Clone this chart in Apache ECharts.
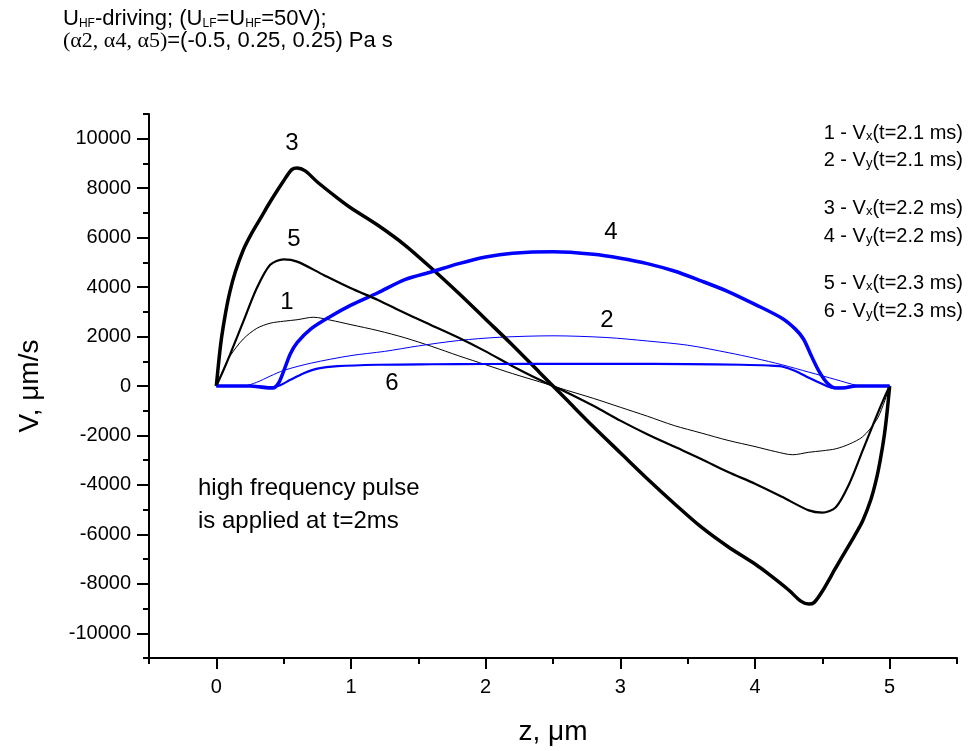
<!DOCTYPE html>
<html>
<head>
<meta charset="utf-8">
<title>V(z)</title>
<script src="https://cdn.jsdelivr.net/npm/echarts@6/dist/echarts.min.js"></script>
<style>
  html, body { margin: 0; padding: 0; background: #fff; }
  #chart { width: 970px; height: 751px; }
</style>
</head>
<body>
<div id="chart"></div>
<script>
// tick values
var xMajorTicks = [0, 1, 2, 3, 4, 5];
var xMinorTicks = [-0.5, 0.5, 1.5, 2.5, 3.5, 4.5, 5.5];
var yMajorTicks = [-10000, -8000, -6000, -4000, -2000, 0, 2000, 4000, 6000, 8000, 10000];
var yMinorTicks = [-11000, -9000, -7000, -5000, -3000, -1000, 1000, 3000, 5000, 7000, 9000, 11000];

// curve 1 - Vx(t=2.1 ms), [z, V]
var vx21 = [[0,0],[0.05,650],[0.1,1200],[0.2,1900],[0.3,2330],[0.4,2540],[0.5,2620],[0.6,2680],[0.72,2780],
  [0.85,2660],[1.0,2480],[1.2,2240],[1.4,1950],[1.6,1600],[1.8,1220],[2.0,860],[2.2,500],[2.4,170],[2.5,0],
  [2.6,-170],[2.8,-500],[3.0,-860],[3.2,-1220],[3.4,-1600],[3.6,-1900],[3.8,-2200],[4.0,-2450],[4.15,-2650],
  [4.28,-2780],[4.4,-2680],[4.5,-2620],[4.6,-2540],[4.7,-2350],[4.8,-2050],[4.9,-1400],[4.95,-800],[5.0,0]];
// curve 2 - Vy(t=2.1 ms)
var vy21 = [[0,0],[0.2,0],[0.3,150],[0.4,400],[0.5,630],[0.7,920],[1.0,1230],[1.25,1400],[1.5,1620],[1.8,1840],
  [2.1,1970],[2.5,2030],[2.9,1960],[3.2,1820],[3.5,1650],[3.8,1350],[4.0,1120],[4.2,860],[4.4,560],[4.6,260],
  [4.75,30],[4.8,0],[5.0,0]];
// curve 3 - Vx(t=2.2 ms)
var vx22 = [[0,0],[0.02,1100],[0.04,2000],[0.07,3000],[0.1,3800],[0.14,4600],[0.2,5500],[0.26,6150],[0.33,6800],
  [0.4,7450],[0.5,8300],[0.56,8750],[0.6,8820],[0.66,8700],[0.75,8250],[0.9,7600],[1.0,7200],[1.2,6500],
  [1.4,5700],[1.6,4750],[1.8,3750],[2.0,2700],[2.2,1650],[2.4,550],[2.5,0],[2.6,-550],[2.8,-1650],
  [3.0,-2700],[3.2,-3750],[3.4,-4750],[3.6,-5700],[3.8,-6500],[4.0,-7200],[4.1,-7600],[4.25,-8250],
  [4.34,-8700],[4.4,-8820],[4.44,-8750],[4.5,-8300],[4.6,-7350],[4.67,-6700],[4.74,-6050],[4.8,-5450],
  [4.86,-4600],[4.9,-3800],[4.93,-3000],[4.96,-2000],[4.98,-1100],[5.0,0]];
// curve 4 - Vy(t=2.2 ms)
var vy22 = [[0,0],[0.25,0],[0.35,-60],[0.42,-80],[0.46,100],[0.5,600],[0.55,1300],[0.6,1750],[0.7,2300],
  [0.85,2820],[1.0,3270],[1.2,3770],[1.4,4300],[1.6,4620],[1.8,4950],[2.0,5220],[2.2,5370],[2.5,5430],
  [2.8,5330],[3.0,5170],[3.2,4950],[3.4,4650],[3.6,4250],[3.8,3820],[4.0,3300],[4.2,2740],[4.3,2300],
  [4.36,1900],[4.42,1200],[4.48,550],[4.54,100],[4.6,-80],[4.65,-80],[4.75,0],[5.0,0]];
// curve 5 - Vx(t=2.3 ms)
var vx23 = [[0,0],[0.05,600],[0.1,1250],[0.2,2600],[0.3,3950],[0.4,4900],[0.5,5120],[0.6,5030],[0.8,4480],
  [1.0,3950],[1.2,3480],[1.4,2950],[1.6,2450],[1.8,1950],[2.0,1400],[2.2,800],[2.4,250],[2.5,0],
  [2.6,-250],[2.8,-800],[3.0,-1400],[3.2,-1950],[3.4,-2450],[3.6,-2950],[3.8,-3480],[4.0,-3950],
  [4.2,-4480],[4.4,-5030],[4.5,-5120],[4.6,-4900],[4.7,-3950],[4.8,-2600],[4.9,-1250],[4.95,-600],[5.0,0]];
// curve 6 - Vy(t=2.3 ms)
var vy23 = [[0,0],[0.3,0],[0.4,-50],[0.47,20],[0.55,250],[0.65,520],[0.75,700],[0.9,800],[1.2,860],[1.6,880],
  [2.0,890],[2.5,895],[3.0,895],[3.5,885],[3.9,860],[4.1,830],[4.2,790],[4.3,610],[4.4,330],[4.5,80],
  [4.58,-80],[4.66,-60],[4.75,0],[5.0,0]];

var legendLines = [
  ['1 - V', 'x', '(t=2.1 ms)'],
  ['2 - V', 'y', '(t=2.1 ms)'],
  ['3 - V', 'x', '(t=2.2 ms)'],
  ['4 - V', 'y', '(t=2.2 ms)'],
  ['5 - V', 'x', '(t=2.3 ms)'],
  ['6 - V', 'y', '(t=2.3 ms)']
];

var FONT = 'Liberation Sans, Arial, sans-serif';
var SERIF = 'Liberation Serif, Times New Roman, serif';
var myChart = echarts.init(document.getElementById('chart'));

function curve(data, color, width) {
    return {
        type: 'line',
        data: data,
        showSymbol: false,
        symbol: 'none',
        smooth: 0.3,
        animation: false,
        lineStyle: { color: color, width: width },
        z: 3
    };
}

var graphics = [];
// header
graphics.push({
    type: 'text', left: 63, top: 8,
    style: {
        text: '{a|U}{b|HF}{a|-driving; (U}{b|LF}{a|=U}{b|HF}{a|=50V);}',
        rich: {
            a: { fontFamily: FONT, fontSize: 22, lineHeight: 26, verticalAlign: 'bottom', fill: '#000' },
            b: { fontFamily: FONT, fontSize: 12, lineHeight: 14, verticalAlign: 'bottom', fill: '#000' }
        }
    }
});
graphics.push({
    type: 'text', left: 63, top: 30,
    style: {
        text: '{c|(α2, α4, α5)}{a|=(-0.5, 0.25, 0.25) Pa s}',
        rich: {
            a: { fontFamily: FONT, fontSize: 22, lineHeight: 26, fill: '#000' },
            c: { fontFamily: SERIF, fontSize: 22, lineHeight: 26, fill: '#000' }
        }
    }
});
// legend block on the right
var legendY = [130, 157, 205, 233, 280, 308];
legendLines.forEach(function (l, i) {
    graphics.push({
        type: 'text', x: 963, y: legendY[i],
        style: {
            text: '{a|' + l[0] + '}{b|' + l[1] + '}{a|' + l[2] + '}',
            align: 'right', verticalAlign: 'middle',
            rich: {
                a: { fontFamily: FONT, fontSize: 20, lineHeight: 26, verticalAlign: 'bottom', fill: '#000' },
                b: { fontFamily: FONT, fontSize: 13, lineHeight: 4, verticalAlign: 'bottom', fill: '#000' }
            }
        }
    });
});
// curve numbers
var numLabels = [['3', 292, 143], ['5', 294, 239], ['1', 287, 302], ['4', 611, 232], ['2', 607, 320], ['6', 392, 383]];
numLabels.forEach(function (n) {
    graphics.push({
        type: 'text', x: n[1], y: n[2],
        style: { text: n[0], fontFamily: FONT, fontSize: 24, fill: '#000', align: 'center', verticalAlign: 'middle' }
    });
});
// note
graphics.push({
    type: 'text', x: 198, y: 488,
    style: { text: 'high frequency pulse', fontFamily: FONT, fontSize: 24, fill: '#000', verticalAlign: 'middle' }
});
graphics.push({
    type: 'text', x: 198, y: 521,
    style: { text: 'is applied at t=2ms', fontFamily: FONT, fontSize: 24, fill: '#000', verticalAlign: 'middle' }
});

var axisLineStyle = { color: '#000', width: 2 };

var option = {
    backgroundColor: '#fff',
    animation: false,
    grid: { left: 149, right: 13, top: 114, bottom: 92 },
    xAxis: [
        {
            type: 'value', min: -0.5, max: 5.5, position: 'bottom',
            name: 'z, μm', nameLocation: 'middle', nameGap: 60,
            nameTextStyle: { fontFamily: FONT, fontSize: 28, color: '#000' },
            axisLine: { show: true, onZero: false, lineStyle: axisLineStyle },
            axisTick: { show: true, inside: false, length: 11, customValues: xMajorTicks, lineStyle: axisLineStyle },
            axisLabel: { customValues: xMajorTicks, fontFamily: FONT, fontSize: 20, color: '#000', margin: 19 },
            splitLine: { show: false }
        },
        {
            type: 'value', min: -0.5, max: 5.5, position: 'bottom',
            axisLine: { show: false, onZero: false },
            axisTick: { show: true, inside: false, length: 6, customValues: xMinorTicks, lineStyle: axisLineStyle },
            axisLabel: { show: false },
            splitLine: { show: false }
        }
    ],
    yAxis: [
        {
            type: 'value', min: -11000, max: 11000, position: 'left',
            name: 'V, μm/s', nameLocation: 'middle', nameGap: 105,
            nameTextStyle: { fontFamily: FONT, fontSize: 28, color: '#000' },
            axisLine: { show: true, onZero: false, lineStyle: axisLineStyle },
            axisTick: { show: true, inside: false, length: 12, customValues: yMajorTicks, lineStyle: axisLineStyle },
            axisLabel: {
                customValues: yMajorTicks, fontFamily: FONT, fontSize: 20, color: '#000', margin: 18,
                formatter: function (v) { return String(v); }
            },
            splitLine: { show: false }
        },
        {
            type: 'value', min: -11000, max: 11000, position: 'left',
            axisLine: { show: false, onZero: false },
            axisTick: { show: true, inside: false, length: 6, customValues: yMinorTicks, lineStyle: axisLineStyle },
            axisLabel: { show: false },
            splitLine: { show: false }
        }
    ],
    series: [
        curve(vx21, '#000000', 1),
        curve(vy21, '#0000ff', 1),
        curve(vx22, '#000000', 3.5),
        curve(vy22, '#0000ff', 3.5),
        curve(vx23, '#000000', 2.2),
        curve(vy23, '#0000ff', 2.2)
    ],
    graphic: graphics
};

myChart.setOption(option);
</script>
</body>
</html>
